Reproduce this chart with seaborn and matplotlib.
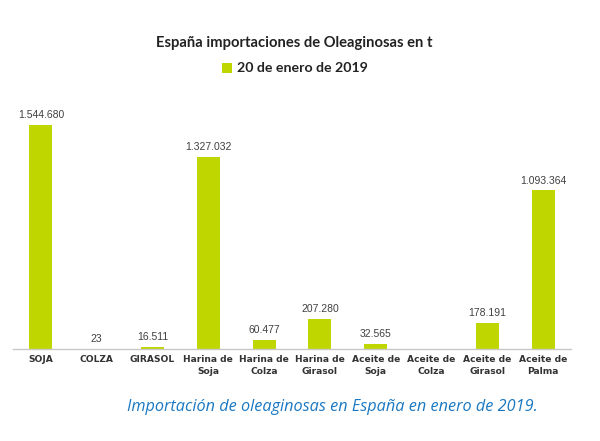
import numpy as np
import pandas as pd
import matplotlib
matplotlib.use("Agg")
import matplotlib.pyplot as plt
import seaborn as sns

categories = ["SOJA", "COLZA", "GIRASOL", "Harina de\nSoja", "Harina de\nColza",
              "Harina de\nGirasol", "Aceite de\nSoja", "Aceite de\nColza",
              "Aceite de\nGirasol", "Aceite de\nPalma"]
values = [1544680, 23, 16511, 1327032, 60477, 207280, 32565, 0, 178191, 1093364]
series_name = "20 de enero de 2019"
title = "España importaciones de Oleaginosas en t"
caption = "Importación de oleaginosas en España en enero de 2019."

BAR = "#c0d600"

sns.set_theme(style="white")
df = pd.DataFrame({"cat": categories, "val": values})

fig = plt.figure(figsize=(6, 4.41), dpi=100)
ax = fig.add_axes([13/600, (441-349)/441, 558/600, 249/441])
sns.barplot(data=df, x="cat", y="val", color=BAR, width=0.41, ax=ax,
            saturation=1, edgecolor="none")
ax.set_xlim(-0.5, 9.5)
ax.set_ylim(0, 249 * 6896)
ax.set_xlabel("")
ax.set_ylabel("")
ax.set_yticks([])
for s in ["top", "right", "left"]:
    ax.spines[s].set_visible(False)
ax.spines["bottom"].set_color("#c8c8c8")
ax.spines["bottom"].set_linewidth(1.0)
ax.tick_params(axis="x", length=0, pad=4.5)
for lab in ax.get_xticklabels():
    lab.set_fontfamily("DejaVu Sans")
    lab.set_fontweight("bold")
    lab.set_fontsize(6.6)
    lab.set_color("#333333")
    lab.set_linespacing(1.4)

def fmt(v):
    if not v:
        return ""
    return f"{int(v):,}".replace(",", ".")

ax.bar_label(ax.containers[0], labels=[fmt(v) for v in values], padding=3.5,
             fontsize=7.5, color="#404040", family="Liberation Sans")

fig.text(294, 441 - 43, title, transform=None, ha="center", va="center",
         fontsize=10.6, fontweight="bold", family="Lato", color="#222222")
fig.patches.append(plt.Rectangle((222, 441 - 73), 10, 10, transform=None,
                                 facecolor=BAR, edgecolor="none", figure=fig))
fig.text(237, 441 - 68, series_name, transform=None, ha="left", va="center",
         fontsize=10.2, fontweight="bold", family="Lato", color="#222222")

fig.text(127, 441 - 407, caption, transform=None, ha="left", va="center",
         fontsize=11.7, style="italic", family="Open Sans", color="#1a78c2")

fig.savefig("out.png", dpi=100)
